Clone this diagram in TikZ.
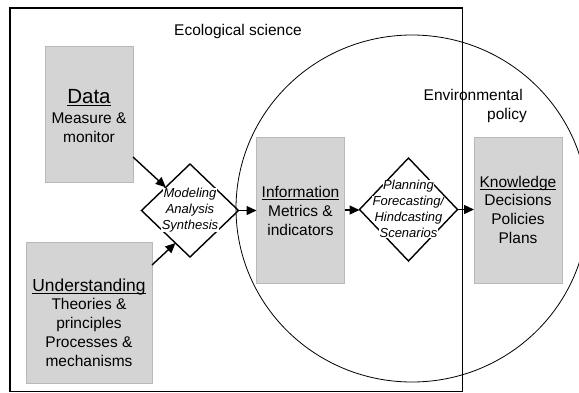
\documentclass[tikz,border=0pt]{standalone}
\usepackage{fontspec}
\setmainfont{Liberation Sans}
\usetikzlibrary{shapes.geometric,arrows.meta,calc}

\definecolor{boxfill}{RGB}{212,212,212}
\definecolor{boxline}{RGB}{185,185,185}

% underlined heading word with a fixed rule just below the baseline
\newcommand\uword[1]{\setbox0\hbox{#1}\rlap{\rule[-2.6pt]{\wd0}{0.9pt}}\box0}
% white patch behind one line of diamond text
\newcommand\wb[1]{{\fboxsep=0.4pt\colorbox{white}{#1}}}

\tikzset{
  box/.style={draw=boxline, fill=boxfill, line width=0.8pt, inner sep=0pt, outer sep=0pt},
  dia/.style={diamond, draw, line width=1.4pt, inner sep=0pt, outer sep=0pt},
  % multi-line labels are placed by the baseline of their last line
  lbl/.style={align=center, anchor=base, inner sep=0pt, font=\fontsize{15.5}{18.7}\selectfont},
  dtext/.style={align=center, anchor=base, inner sep=0pt, font=\fontsize{13}{15.7}\selectfont\itshape},
  arr/.style={-{Triangle[length=10pt,width=9pt]}, line width=1.4pt},
}

\begin{document}
\begin{tikzpicture}[x=1pt,y=-1pt]
\useasboundingbox (0,0) rectangle (579,392);
\clip (0,0) rectangle (579,392);

% policy domain
\draw[line width=0.8pt] (412,208.5) ellipse [x radius=176pt, y radius=173.5pt];

% boxes
\node[box, minimum width=88pt, minimum height=136pt] (data) at (89,114) {};
\node[box, minimum width=126pt, minimum height=141pt] (und) at (89,312.5) {};
\node[box, minimum width=88pt, minimum height=146pt] (info) at (300.5,210) {};
\node[box, minimum width=88pt, minimum height=146pt] (know) at (518,210) {};

% process diamonds
\node[dia, minimum width=97pt, minimum height=93pt] (d1) at (190,210.5) {};
\node[dia, minimum width=98pt, minimum height=103pt] (d2) at (408.5,209.5) {};

% flows
\draw[arr] ([yshift=25pt]data.south east) -- (d1.north west);
\draw[arr] ([yshift=-23pt]und.north east) -- ($(d1.west)!0.7!(d1.south)$);
\draw[arr] (d1.east) -- (d1.east -| info.west);
\draw[arr] (info.east) -- (info.east -| d2.west);
\draw[arr] (d2.east) -- (d2.east -| know.west);

% box texts
\node[lbl] (datat) at (89,142) {{\fontsize{20.5}{20}\selectfont\uword{Data}}\\[1pt]Measure \&\\monitor};
\node[lbl] (undt) at (89,366) {{\fontsize{17.4}{19}\selectfont\uword{Understanding}}\\Theories \&\\principles\\Processes \&\\mechanisms};
\node[lbl] (infot) at (300.5,235) {\uword{Information}\\Metrics \&\\indicators};
\node[lbl] (knowt) at (518,243.3) {\uword{Knowledge}\\Decisions\\Policies\\Plans};

% diamond texts
\node[dtext] (d1t) at (190,229) {\wb{Modeling}\\\wb{Analysis}\\\wb{Synthesis}};
\node[dtext] (d2t) at (408.5,237) {\wb{Planning}\\\wb{Forecasting/}\\\wb{Hindcasting}\\\wb{Scenarios}};

% domain titles
\node[lbl] (eco) at (238,35) {Ecological science};
\node[lbl, align=right, anchor=base east] (env) at (523,119) {Environmental\\policy\hspace*{-4pt}};

% science domain frame
\draw[line width=1.5pt] (10,8) rectangle (462.5,391.5);
\end{tikzpicture}
\end{document}
